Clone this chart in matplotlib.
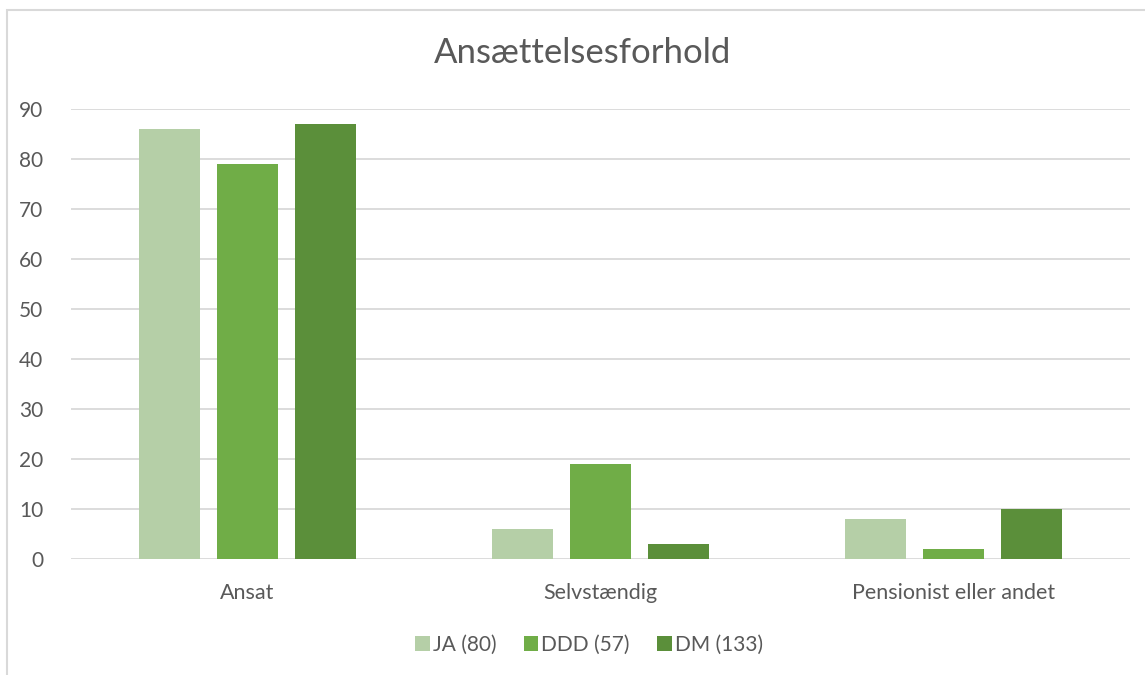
import numpy as np
import matplotlib
matplotlib.use("Agg")
import matplotlib.pyplot as plt
from matplotlib.patches import Rectangle

plt.rcParams["font.family"] = ["Lato", "DejaVu Sans"]

categories = ["Ansat", "Selvstændig", "Pensionist eller andet"]
series_names = ["JA (80)", "DDD (57)", "DM (133)"]
ja_values = [86, 6, 8]
ddd_values = [79, 19, 2]
dm_values = [87, 3, 10]
y_ticks = [0, 10, 20, 30, 40, 50, 60, 70, 80, 90]

colors = ["#B5CFA7", "#70AD47", "#5B8F3A"]
text_color = "#595959"
grid_color = "#D9D9D9"

W, H = 1145, 675
fig = plt.figure(figsize=(W / 100, H / 100), dpi=100)

# chart frame (light grey border, cropped at right/bottom)
fig.patches.append(Rectangle((7 / W, -0.01), 1.2, 1 - 10 / H + 0.01,
                             transform=fig.transFigure, fill=False,
                             edgecolor="#D9D9D9", linewidth=1.5))

ax = fig.add_axes([71 / W, 1 - 559 / H, (1130 - 71) / W, (559 - 109) / H])

x = np.arange(len(categories))
bar_w = 0.173
step = 0.221
for i, (vals, name) in enumerate(zip([ja_values, ddd_values, dm_values], series_names)):
    ax.bar(x + (i - 1) * step, vals, width=bar_w, color=colors[i], label=name, zorder=3)

ax.set_xlim(-0.5, len(categories) - 0.5)
ax.set_ylim(0, 90)
ax.set_yticks(y_ticks)
ax.set_xticks(x)
ax.set_xticklabels(categories)
ax.tick_params(axis="both", length=0, labelsize=15.5, colors=text_color)
ax.tick_params(axis="y", labelsize=15)
ax.tick_params(axis="x", pad=17)
ax.tick_params(axis="y", pad=20)
ax.grid(axis="y", color=grid_color, linewidth=1.3, zorder=0)
for s in ax.spines.values():
    s.set_visible(False)

fig.text(583 / W, 1 - 53 / H, "Ansættelsesforhold", ha="center", va="center",
         fontsize=25, color=text_color)

fig.legend(loc="center", bbox_to_anchor=(589 / W, 1 - 645 / H), ncol=3,
           frameon=False, fontsize=15, labelcolor=text_color,
           handlelength=0.7, handleheight=0.7, handletextpad=0.15,
           columnspacing=1.3)

fig.savefig("out.png", dpi=100)
